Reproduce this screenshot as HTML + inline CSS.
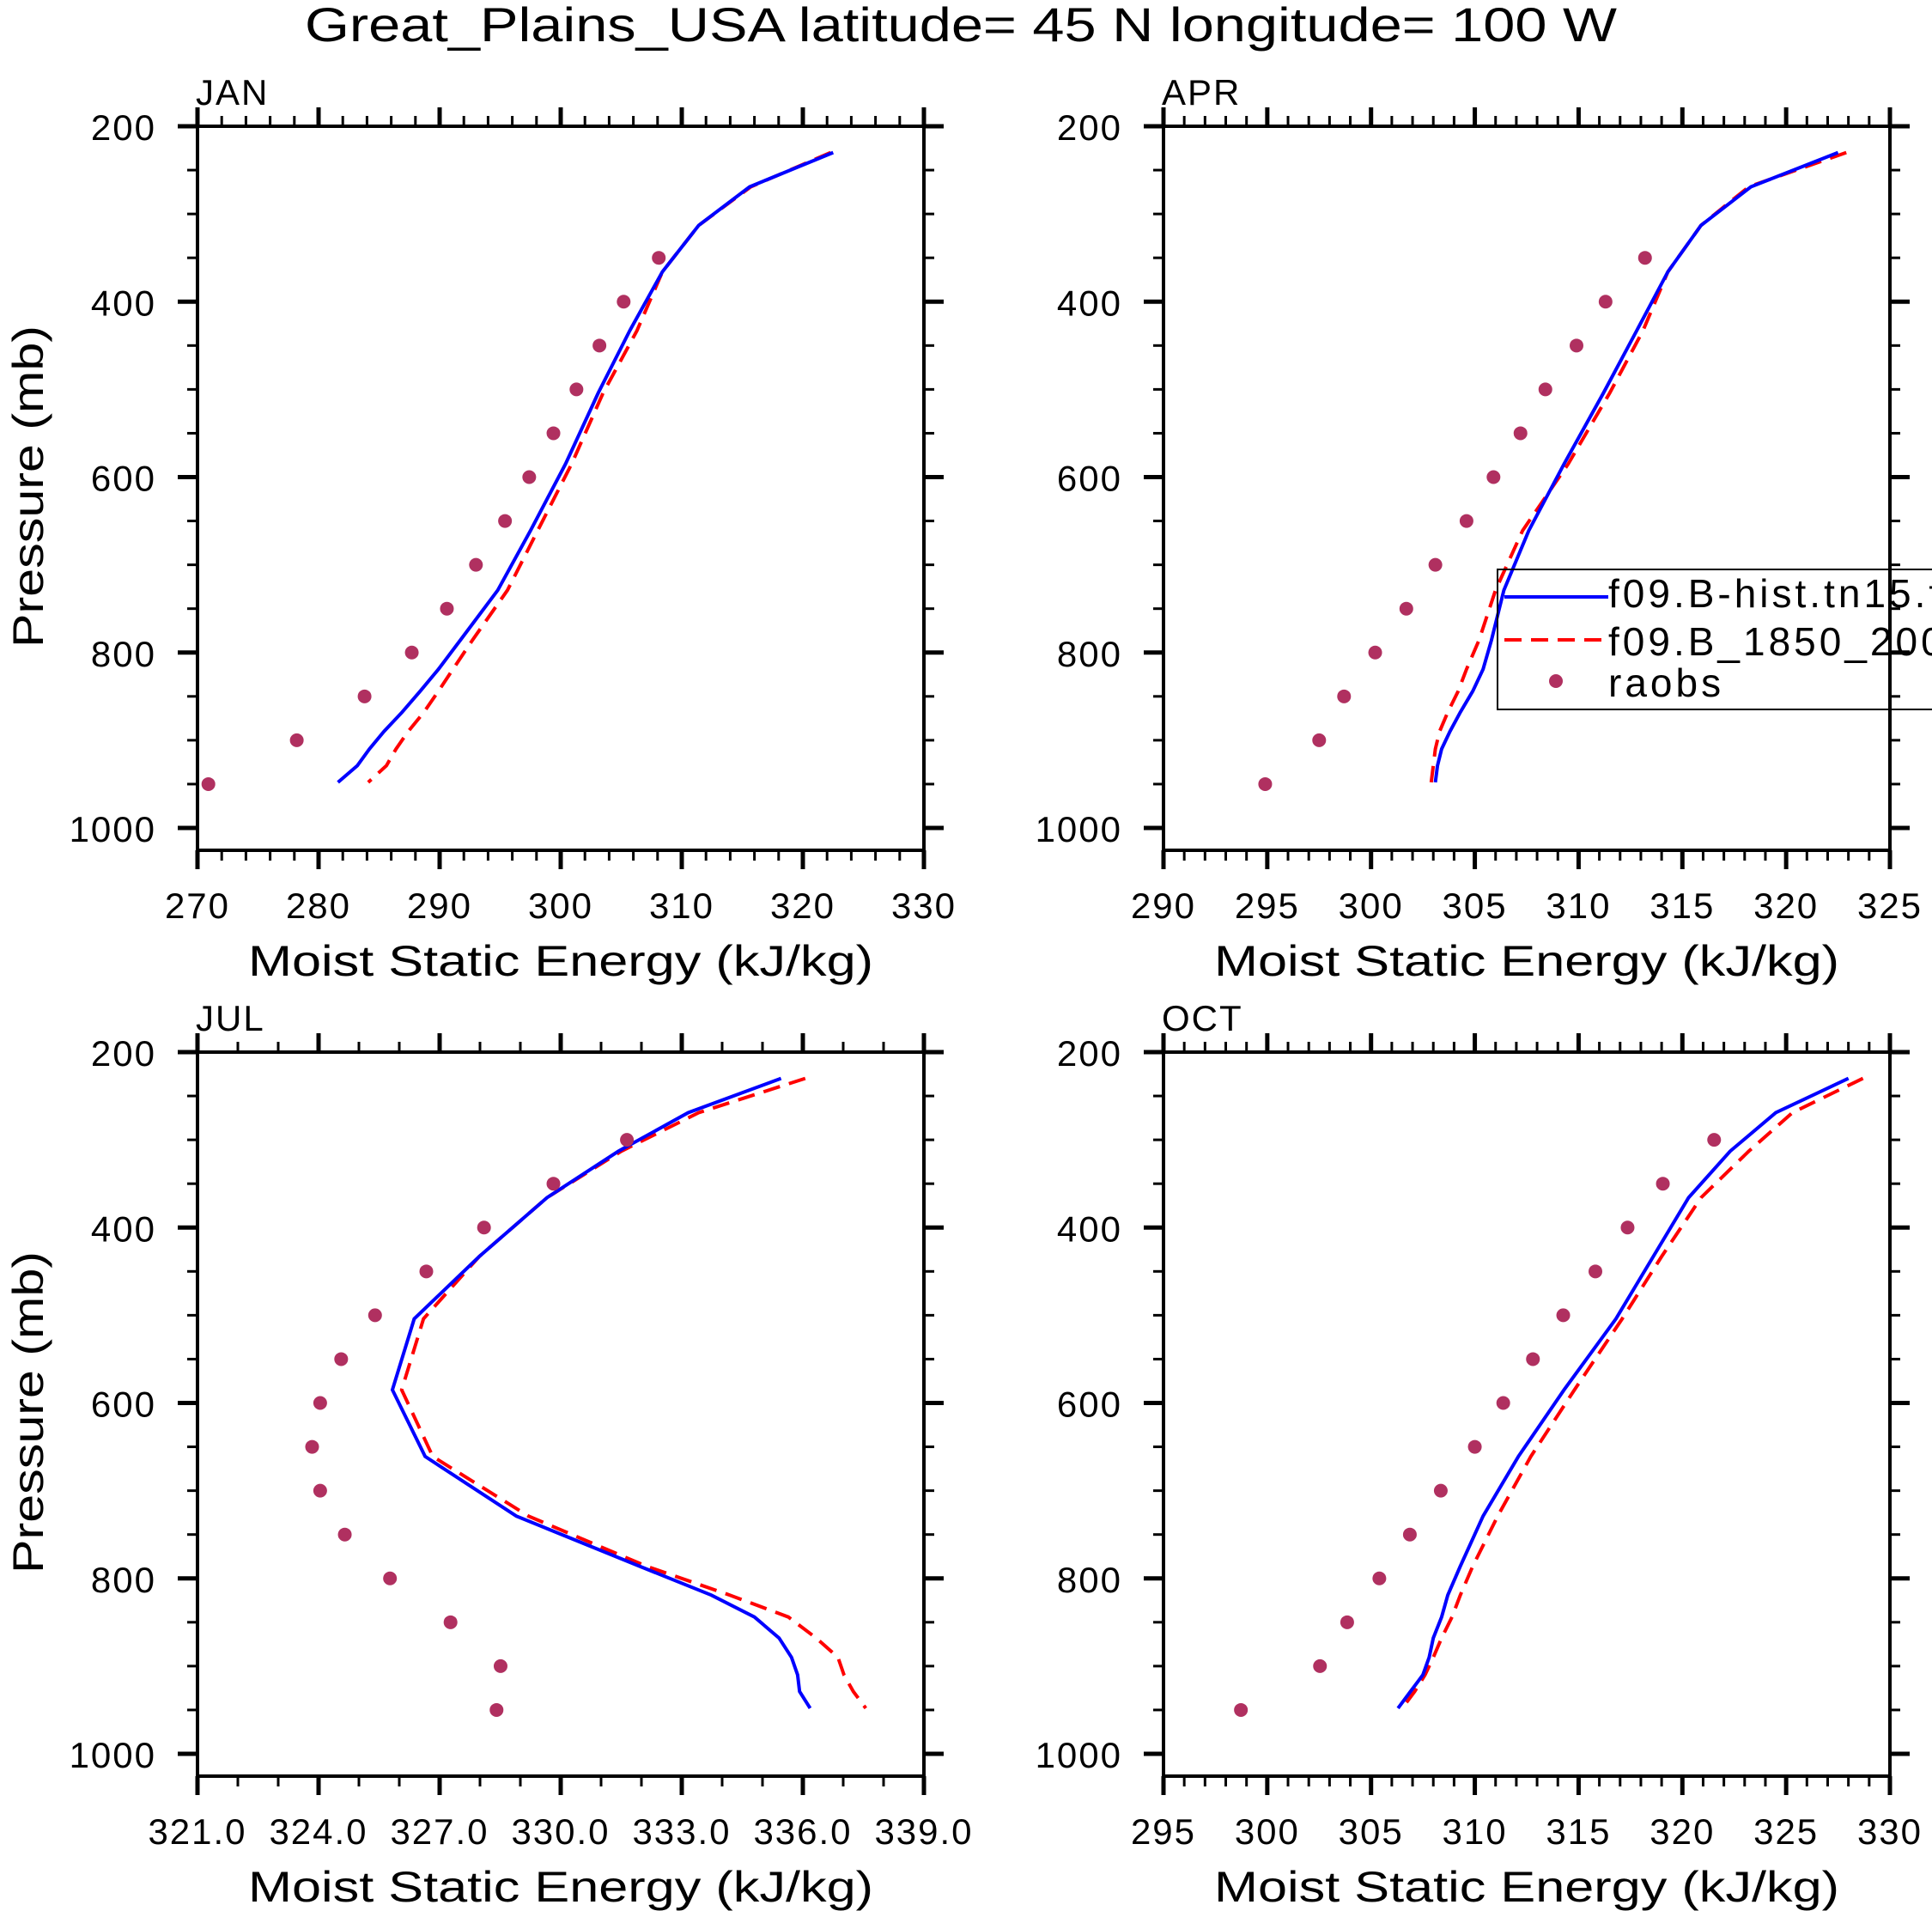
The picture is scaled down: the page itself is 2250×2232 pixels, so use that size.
<!DOCTYPE html>
<html><head><meta charset="utf-8"><style>
html,body{margin:0;padding:0;background:#fff;}
svg{display:block;font-family:"Liberation Sans",sans-serif;}
</style></head><body>
<svg id="chart" xmlns="http://www.w3.org/2000/svg" width="2250" height="2232" viewBox="0 0 2250 2232">
<rect x="0" y="0" width="2250" height="2232" fill="#fff"/>
<text x="1119" y="48" font-size="56" text-anchor="middle" textLength="1528" lengthAdjust="spacingAndGlyphs">Great_Plains_USA  latitude= 45 N longitude= 100 W</text>
<g id="plots"></g>
</svg>
<script>
// Shared model pressure levels (mb)
const modelLevels = [230,269,313,366,433,504,585,661,729,786,819,844,868,890,910,929,948];
// Raob pressure levels (mb)
const raobLevelsJan = [350,400,450,500,550,600,650,700,750,800,850,900,950];
const raobLevelsApr = [350,400,450,500,550,600,650,700,750,800,850,900,950];
const raobLevelsJul = [300,350,400,450,500,550,600,650,700,750,800,850,900,950];
const raobLevelsOct = [300,350,400,450,500,550,600,650,700,750,800,850,900,950];

const janHist = [322.5,315.6,311.4,308.4,305.7,303.1,300.4,297.5,294.8,291.7,289.9,288.4,286.9,285.4,284.2,283.2,281.6];
const jan1850 = [322.3,315.7,311.4,308.4,306.3,303.5,300.9,298.1,295.6,292.7,291.1,289.9,288.7,287.4,286.4,285.6,284.1];
const janRaobs = [308.1,305.2,303.2,301.3,299.4,297.4,295.4,293.0,290.6,287.7,283.8,278.2,270.9];

const aprHist = [322.5,318.3,315.9,314.3,312.8,311.2,309.3,307.6,306.4,305.8,305.4,304.9,304.3,303.8,303.4,303.2,303.1];
const apr1850 = [322.9,318.2,315.9,314.3,313.1,311.5,309.5,307.3,306.0,305.2,304.6,304.2,303.7,303.3,303.1,303.0,302.9];
const aprRaobs = [313.2,311.3,309.9,308.4,307.2,305.9,304.6,303.1,301.7,300.2,298.7,297.5,294.9];

const julHist = [335.46,333.16,331.43,329.66,327.98,326.37,325.83,326.64,328.90,331.95,333.73,334.80,335.41,335.72,335.87,335.92,336.18];
const jul1850 = [336.06,333.42,331.50,329.66,327.98,326.60,326.06,326.83,329.20,332.12,334.19,335.64,336.33,336.87,337.02,337.25,337.56];
const julRaobs = [331.64,329.82,328.10,326.67,325.40,324.56,324.04,323.84,324.04,324.65,325.77,327.27,328.51,328.41];

const octHist = [328.0,324.5,322.3,320.3,318.6,316.8,314.3,312.1,310.4,309.3,308.7,308.4,308.0,307.8,307.5,306.9,306.3];
const oct1850 = [328.7,325.3,323.2,320.9,319.0,317.1,314.8,312.7,311.1,309.9,309.3,308.9,308.4,308.0,307.6,307.1,306.5];
const octRaobs = [321.53,319.06,317.36,315.81,314.26,312.80,311.37,310.00,308.36,306.87,305.40,303.85,302.54,298.73];

const janTicks = [270,280,290,300,310,320,330];
const aprTicks = [290,295,300,305,310,315,320,325];
const julTicks = ["321.0","324.0","327.0","330.0","333.0","336.0","339.0"];
const octTicks = [295,300,305,310,315,320,325,330];
const pTicks = [200,400,600,800,1000];

const NS="http://www.w3.org/2000/svg";
const root=document.getElementById('plots');
function mk(tag,attrs,parent){const e=document.createElementNS(NS,tag);for(const k in attrs)e.setAttribute(k,attrs[k]);(parent||root).appendChild(e);return e;}

const panels=[
 {id:'jan',label:'JAN',x0:230,y0:147,xmin:270,xmax:330,minor:2,ticks:janTicks,hist:janHist,b1850:jan1850,raobs:janRaobs,rl:raobLevelsJan,legend:false,ytitle:true},
 {id:'apr',label:'APR',x0:1355,y0:147,xmin:290,xmax:325,minor:1,ticks:aprTicks,hist:aprHist,b1850:apr1850,raobs:aprRaobs,rl:raobLevelsApr,legend:true,ytitle:false},
 {id:'jul',label:'JUL',x0:230,y0:1225,xmin:321,xmax:339,minor:1,ticks:julTicks,hist:julHist,b1850:jul1850,raobs:julRaobs,rl:raobLevelsJul,legend:false,ytitle:true},
 {id:'oct',label:'OCT',x0:1355,y0:1225,xmin:295,xmax:330,minor:1,ticks:octTicks,hist:octHist,b1850:oct1850,raobs:octRaobs,rl:raobLevelsOct,legend:false,ytitle:false}
];
const W=846, PXMB=817/800;

panels.forEach(p=>{
 const g=mk('g',{});
 
 
 const H=843;
 const xs=v=>p.x0+(v-p.xmin)/(p.xmax-p.xmin)*W;
 const ys=m=>p.y0+(m-200)*PXMB;
 const lab=mk('text',{x:p.x0-2,y:p.y0-25,'font-size':42,'letter-spacing':2},g);lab.textContent=p.label;
 
 
 const fr=mk('rect',{x:p.x0,y:p.y0,width:W,height:H,fill:'none',stroke:'#000','stroke-width':4},g);
 
 
 for(let v=p.xmin;v<=p.xmax+1e-6;v+=p.minor){
   const x=xs(v);
   const major=p.ticks.some(t=>Math.abs(parseFloat(t)-v)<1e-6);
   const L=major?22:12;
   mk('line',{x1:x,y1:p.y0+H,x2:x,y2:p.y0+H+L,stroke:'#000','stroke-width':major?5:3},g);
   mk('line',{x1:x,y1:p.y0,x2:x,y2:p.y0-L,stroke:'#000','stroke-width':major?5:3},g);
 }
 p.ticks.forEach(t=>{
   const tl=mk('text',{x:xs(parseFloat(t)),y:p.y0+H+79,'font-size':42,'letter-spacing':2,'text-anchor':'middle'},g);
   tl.textContent=t;
   
   
 });
 for(let m=200;m<=1000;m+=50){
   const y=ys(m), major=(m%200===0);
   const L=major?23:12;
   mk('line',{x1:p.x0,y1:y,x2:p.x0-L,y2:y,stroke:'#000','stroke-width':major?5:3},g);
   mk('line',{x1:p.x0+W,y1:y,x2:p.x0+W+L,y2:y,stroke:'#000','stroke-width':major?5:3},g);
 }
 pTicks.forEach(m=>{
   const tl=mk('text',{x:p.x0-48,y:ys(m)+16,'font-size':42,'letter-spacing':2,'text-anchor':'end'},g);
   tl.textContent=m;
   
   
 });
 const xt=mk('text',{x:p.x0+W/2,y:p.y0+H+146,'font-size':50,'text-anchor':'middle',textLength:728,lengthAdjust:'spacingAndGlyphs'},g);
 xt.textContent='Moist Static Energy (kJ/kg)';
 
 
 if(p.ytitle){
   const yc=p.y0+H/2-2;
   const yt=mk('text',{x:p.x0-180,y:yc,'font-size':50,'text-anchor':'middle',textLength:375,lengthAdjust:'spacingAndGlyphs',transform:'rotate(-90 '+(p.x0-180)+' '+yc+')'},g);
   yt.textContent='Pressure (mb)';
   
   
 }
 const cp=mk('clipPath',{id:'clip-'+p.id},g);
 mk('rect',{x:p.x0,y:p.y0,width:W,height:H},cp);
 const dg=mk('g',{'clip-path':'url(#clip-'+p.id+')'},g);
 const pathOf=arr=>arr.map((v,i)=>(i?'L':'M')+xs(v).toFixed(1)+' '+ys(modelLevels[i]).toFixed(1)).join(' ');
 const r=mk('path',{d:pathOf(p.b1850),fill:'none',stroke:'#ff0000','stroke-width':4,'stroke-dasharray':'20 11'},dg);
 
 
 const b=mk('path',{d:pathOf(p.hist),fill:'none',stroke:'#0000ff','stroke-width':4},dg);
 
 
 p.raobs.forEach((v,i)=>{
   const c=mk('circle',{cx:xs(v),cy:ys(p.rl[i]),r:8,fill:'#b03060'},dg);
   
   
 });
 if(p.legend){
   const lg=mk('g',{},g);
   
   
   mk('rect',{x:1744,y:663,width:560,height:163,fill:'none',stroke:'#000','stroke-width':2},lg);
   mk('line',{x1:1752,y1:695,x2:1873,y2:695,stroke:'#0000ff','stroke-width':4},lg);
   mk('line',{x1:1752,y1:745,x2:1873,y2:745,stroke:'#ff0000','stroke-width':4,'stroke-dasharray':'20 11'},lg);
   mk('circle',{cx:1812,cy:793,r:8,fill:'#b03060'},lg);
   const t1=mk('text',{x:1873,y:707,'font-size':46,'letter-spacing':4},lg);t1.textContent='f09.B-hist.tn15.f09_g16';
   
   
   const t2=mk('text',{x:1873,y:763,'font-size':46,'letter-spacing':4},lg);t2.textContent='f09.B_1850_2000';
   
   
   const t3=mk('text',{x:1873,y:811,'font-size':46,'letter-spacing':4},lg);t3.textContent='raobs';
   
   
 }
});
</script>
</body></html>
